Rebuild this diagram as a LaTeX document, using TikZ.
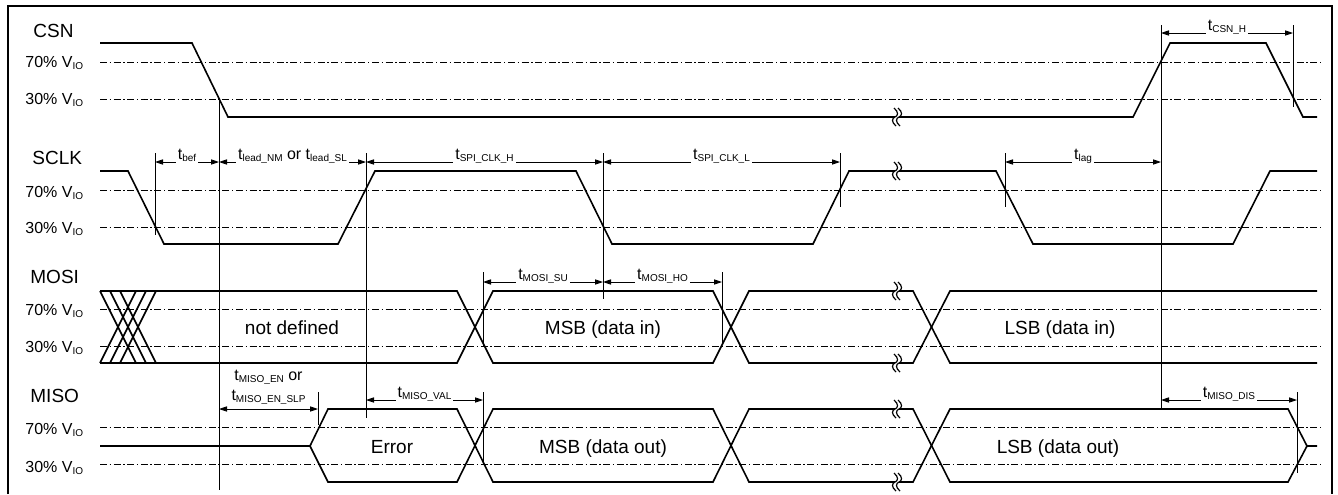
\documentclass[tikz,border=0pt]{standalone}
\usepackage{fontspec}
\setmainfont{Liberation Sans}
\usetikzlibrary{arrows.meta}
\newcommand{\sub}[1]{\raisebox{-0.3ex}{\fontsize{5}{6}\selectfont #1}}
\newcommand{\brk}[2]{%
  \fill[white] (#1,#2-2) rectangle (#1+4,#2+2);
  \foreach \k in {0,4}
    \draw[wire,line width=0.6pt] (#1+\k-1,#2-9) .. controls (#1+\k+4,#2-5) and (#1+\k+3,#2-1) .. (#1+\k,#2)
      .. controls (#1+\k-3,#2+1) and (#1+\k-4,#2+5) .. (#1+\k+1,#2+9);}
\tikzset{
  wire/.style={black,line width=0.8pt,line join=miter},
  level/.style={black,line width=0.4pt,dash pattern=on 3.5pt off 1.3pt on 0.7pt off 1.3pt},
  marker/.style={black,line width=0.45pt},
  dimarrow/.style={{Triangle[length=4pt,width=2.6pt]}-{Triangle[length=4pt,width=2.6pt]},line width=0.45pt},
  tlab/.style={midway,fill=white,inner xsep=1pt,inner ysep=0.8pt,anchor=base,yshift=1.3pt,
               font=\fontsize{8}{9.6}\selectfont},
  signame/.style={anchor=base west,inner sep=0pt,font=\fontsize{9.5}{11}\selectfont},
  lvl/.style={anchor=base west,inner sep=0pt,font=\fontsize{8}{9.6}\selectfont},
  busname/.style={anchor=base,inner sep=0pt,font=\fontsize{9.5}{11}\selectfont},
}
\begin{document}
\begin{tikzpicture}[x=0.5pt,y=-0.5pt]
  \path[use as bounding box] (0,0) rectangle (1338,494);
  \draw[line width=0.6pt] (8,494) -- (8,6) -- (1332,6) -- (1332,494);

  % threshold levels
  \foreach \y in {62,99,190,227,309,346,427,464}
    \draw[level] (100,\y) -- (1322,\y);

  \node[signame] (csn) at (33,37) {CSN};
  \node[signame] (sclk) at (32,164) {SCLK};
  \node[signame] (mosi) at (30,283) {MOSI};
  \node[signame] (miso) at (30,402) {MISO};
  \foreach \n/\p/\y in {C/70/67,C/30/104,S/70/197,S/30/233,D/70/315,D/30/352,Q/70/434,Q/30/472}
    \node[lvl] (lvl\n\p) at (25,\y) {\p\% V\sub{IO}};

  % waveforms
  \draw[wire] (100,43) -- (192,43) -- (228,117) -- (1133,117) -- (1170,43) -- (1266,43)
    -- (1303,117) -- (1317,117);
  \draw[wire] (100,171) -- (128,171) -- (164,244) -- (338,244) -- (375,171) -- (576,171)
    -- (612,244) -- (813,244) -- (849,171) -- (996,171) -- (1033,244) -- (1233,244)
    -- (1270,171) -- (1317,171);
  \foreach \x in {100,110,120}
    \draw[wire] (\x,291) -- (\x+36,363) (\x,363) -- (\x+36,291);
  \draw[wire] (100,291) -- (457,291) -- (493,363) -- (713,363) -- (749,291) -- (913,291)
    -- (950,363) -- (1317,363);
  \draw[wire] (100,363) -- (457,363) -- (493,291) -- (713,291) -- (749,363) -- (913,363)
    -- (950,291) -- (1317,291);
  \draw[wire] (100,446) -- (310,446) -- (328,409) -- (457,409) -- (493,482) -- (713,482)
    -- (749,409) -- (913,409) -- (950,482) -- (1288,482) -- (1307,446) -- (1317,446);
  \draw[wire] (310,446) -- (328,482) -- (457,482) -- (493,409) -- (713,409) -- (749,482)
    -- (913,482) -- (950,409) -- (1288,409) -- (1307,446);
  \foreach \y in {117,171,291,363,409,482}
    {\brk{895}{\y}}

  \node[busname] (undef) at (292,334) {not defined};
  \node[busname] (msbin) at (603,334) {MSB (data in)};
  \node[busname] (lsbin) at (1060,334) {LSB (data in)};
  \node[busname] (err) at (392,453) {Error};
  \node[busname] (msbout) at (603,453) {MSB (data out)};
  \node[busname] (lsbout) at (1058,453) {LSB (data out)};

  % timing markers
  \foreach \n/\x/\ya/\yb in {mSa/155/153/235,mCa/219/99/490,mSb/366/153/418,mSc/603/153/299,
      mSd/840/153/207,mSe/1005/153/207,mCb/1161/25/408,mCc/1293/25/107,mDa/483/272/346,
      mDb/722/272/343,mQa/318/392/425,mQb/483/392/462,mQc/1297/392/473}
    \draw[marker] (\x,\ya) coordinate (\n) -- (\x,\yb);
  \coordinate (rC) at (0,33);
  \coordinate (rS) at (0,162);
  \coordinate (rD) at (0,282);
  \coordinate (rE) at (0,409);
  \coordinate (rQ) at (0,400);

  \draw[dimarrow] (mCb |- rC) -- (mCc |- rC) node[tlab] {t\sub{CSN\_H}};
  \draw[dimarrow] (mSa |- rS) -- (mCa |- rS) node[tlab] {t\sub{bef}};
  \draw[dimarrow] (mCa |- rS) -- (mSb |- rS) node[tlab] {t\sub{lead\_NM} or t\sub{lead\_SL}};
  \draw[dimarrow] (mSb |- rS) -- (mSc |- rS) node[tlab] {t\sub{SPI\_CLK\_H}};
  \draw[dimarrow] (mSc |- rS) -- (mSd |- rS) node[tlab] {t\sub{SPI\_CLK\_L}};
  \draw[dimarrow] (mSe |- rS) -- (mCb |- rS) node[tlab] {t\sub{lag}};
  \draw[dimarrow] (mDa |- rD) -- (mSc |- rD) node[tlab] {t\sub{MOSI\_SU}};
  \draw[dimarrow] (mSc |- rD) -- (mDb |- rD) node[tlab] {t\sub{MOSI\_HO}};
  \draw[dimarrow] (mCa |- rE) -- (mQa |- rE)
    node[midway,anchor=south,inner sep=0pt,yshift=2pt,align=center,font=\fontsize{8}{10}\selectfont]
    (enlab) {t\sub{MISO\_EN} or\\t\sub{MISO\_EN\_SLP}};
  \draw[dimarrow] (mSb |- rQ) -- (mQb |- rQ) node[tlab] {t\sub{MISO\_VAL}};
  \draw[dimarrow] (mCb |- rQ) -- (mQc |- rQ) node[tlab] {t\sub{MISO\_DIS}};
\end{tikzpicture}
\end{document}
